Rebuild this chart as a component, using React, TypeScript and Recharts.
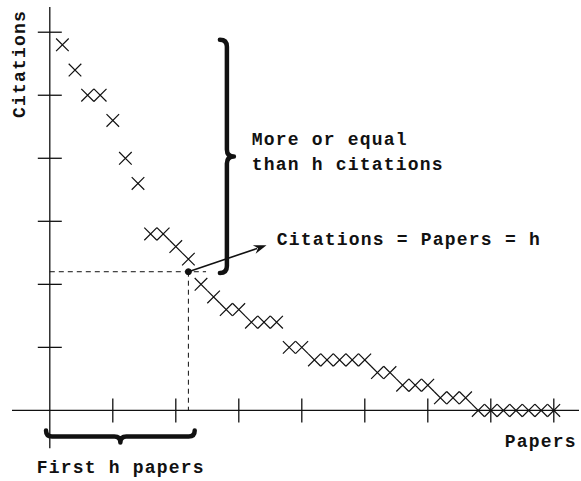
import React from 'react';
import { ScatterChart, Scatter, XAxis, YAxis, ReferenceLine, ReferenceDot } from 'recharts';

// papers ranked by citation count
const papers = [
  1, 2, 3, 4, 5, 6, 7, 8, 9, 10, 11, 12, 13, 14, 15, 16, 17, 18, 19, 20,
  21, 22, 23, 24, 25, 26, 27, 28, 29, 30, 31, 32, 33, 34, 35, 36, 37, 38, 39, 40,
];
const citations = [
  29, 27, 25, 25, 23, 20, 18, 14, 14, 13, 12, 10, 9, 8, 8, 7, 7, 7, 5, 5,
  4, 4, 4, 4, 4, 3, 3, 2, 2, 2, 1, 1, 1, 0, 0, 0, 0, 0, 0, 0,
];
const xTickValues = [5, 10, 15, 20, 25, 30, 35, 40];
const yTickValues = [5, 10, 15, 20, 25, 30];
const hIndex = 11;

const points = papers.map((p, i) => ({ x: p, y: citations[i] }));
const xTicks = xTickValues.map((v) => ({ x: v, y: 0 }));
const yTicks = yTickValues.map((v) => ({ x: 0, y: v }));

const INK = '#111';
const FONT = "'Liberation Mono', 'DejaVu Sans Mono', monospace";

const Cross = (props: any) => {
  const { cx, cy } = props;
  const s = 6.3;
  return (
    <path
      d={`M${cx - s},${cy - s}L${cx + s},${cy + s}M${cx - s},${cy + s}L${cx + s},${cy - s}`}
      stroke={INK}
      strokeWidth={1.2}
      fill="none"
    />
  );
};

const XTick = (props: any) => (
  <line x1={props.cx} x2={props.cx} y1={props.cy - 12} y2={props.cy + 12} stroke={INK} strokeWidth={1.3} />
);
const YTick = (props: any) => (
  <line x1={props.cx - 12} x2={props.cx + 12} y1={props.cy} y2={props.cy} stroke={INK} strokeWidth={1.3} />
);

// curly brace pointing right, between (x1,y1) and (x2,y2)
const VBrace = (props: any) => {
  const { x1, y1, y2 } = props;
  const d = 7;
  const ym = (y1 + y2) / 2;
  const p = `M${x1},${y1} Q${x1 + d},${y1} ${x1 + d},${y1 + d} L${x1 + d},${ym - d} Q${x1 + d},${ym} ${x1 + 2 * d},${ym} Q${x1 + d},${ym} ${x1 + d},${ym + d} L${x1 + d},${y2 - d} Q${x1 + d},${y2} ${x1},${y2}`;
  return <path d={p} stroke={INK} strokeWidth={4.5} fill="none" strokeLinecap="round" strokeLinejoin="round" />;
};

// curly brace pointing down
const HBrace = (props: any) => {
  const { x1, x2, y1 } = props;
  const d = 6;
  const xm = (x1 + x2) / 2;
  const p = `M${x1},${y1} Q${x1},${y1 + d} ${x1 + d},${y1 + d} L${xm - d},${y1 + d} Q${xm},${y1 + d} ${xm},${y1 + 2 * d} Q${xm},${y1 + d} ${xm + d},${y1 + d} L${x2 - d},${y1 + d} Q${x2},${y1 + d} ${x2},${y1}`;
  return <path d={p} stroke={INK} strokeWidth={4.5} fill="none" strokeLinecap="round" strokeLinejoin="round" />;
};

const Arrow = (props: any) => {
  const { x1, y1, x2, y2 } = props;
  const a = Math.atan2(y2 - y1, x2 - x1);
  const len = 13;
  const w = 4.5;
  const bx = x2 - len * Math.cos(a);
  const by = y2 - len * Math.sin(a);
  const px = -Math.sin(a) * w;
  const py = Math.cos(a) * w;
  return (
    <g>
      <line x1={x1} y1={y1} x2={bx + 3 * Math.cos(a)} y2={by + 3 * Math.sin(a)} stroke={INK} strokeWidth={1.6} />
      <path d={`M${x2},${y2}L${bx + px},${by + py}L${bx + 4 * Math.cos(a)},${by + 4 * Math.sin(a)}L${bx - px},${by - py}Z`} fill={INK} />
    </g>
  );
};

const label = (text: string, rotate = false) => (props: any) => (
  <text
    x={props.cx}
    y={props.cy}
    fill={INK}
    fontFamily={FONT}
    fontWeight="bold"
    fontSize={18}
    letterSpacing={1.2}
    transform={rotate ? `rotate(-90 ${props.cx} ${props.cy})` : undefined}
  >
    {text}
  </text>
);

export default function App() {
  return (
    <div style={{ position: 'absolute', left: 0, top: 0, width: 581, height: 481, background: '#fff' }}>
      <ScatterChart width={581} height={481} margin={{ top: 7, right: 2, bottom: 0, left: 12 }}>
        <XAxis type="number" dataKey="x" domain={[-3, 42]} allowDataOverflow hide />
        <YAxis type="number" dataKey="y" domain={[-5.6, 32]} allowDataOverflow hide />

        <ReferenceLine segment={[{ x: -3, y: 0 }, { x: 42, y: 0 }]} stroke={INK} strokeWidth={1.3} ifOverflow="visible" />
        <ReferenceLine segment={[{ x: 0, y: -3 }, { x: 0, y: 32 }]} stroke={INK} strokeWidth={1.3} ifOverflow="visible" />

        <ReferenceLine
          segment={[{ x: 0, y: hIndex }, { x: 12.4, y: hIndex }]}
          stroke={INK}
          strokeWidth={1}
          strokeDasharray="5 4"
          ifOverflow="visible"
        />
        <ReferenceLine
          segment={[{ x: hIndex, y: hIndex }, { x: hIndex, y: 0 }]}
          stroke={INK}
          strokeWidth={1}
          strokeDasharray="5 4"
          ifOverflow="visible"
        />

        <Scatter data={xTicks} shape={XTick} isAnimationActive={false} />
        <Scatter data={yTicks} shape={YTick} isAnimationActive={false} />
        <Scatter data={points} shape={Cross} isAnimationActive={false} />

        <ReferenceLine segment={[{ x: 13.5, y: 29.4 }, { x: 13.5, y: 10.9 }]} shape={VBrace} ifOverflow="visible" />
        <ReferenceLine segment={[{ x: -0.3, y: -1.6 }, { x: 11.5, y: -1.6 }]} shape={HBrace} ifOverflow="visible" />
        <ReferenceLine segment={[{ x: hIndex, y: hIndex }, { x: 17.2, y: 13.1 }]} shape={Arrow} ifOverflow="visible" />
        <ReferenceDot x={hIndex} y={hIndex} r={3} fill={INK} stroke={INK} ifOverflow="visible" />

        <ReferenceDot x={16.03} y={21.03} shape={label('More or equal')} ifOverflow="visible" />
        <ReferenceDot x={16.03} y={19.05} shape={label('than h citations')} ifOverflow="visible" />
        <ReferenceDot x={18.02} y={13.1} shape={label('Citations = Papers = h')} ifOverflow="visible" />
        <ReferenceDot x={36.1} y={-2.94} shape={label('Papers')} ifOverflow="visible" />
        <ReferenceDot x={-1.03} y={-5.0} shape={label('First h papers')} ifOverflow="visible" />
        <ReferenceDot x={-1.94} y={23.2} shape={label('Citations', true)} ifOverflow="visible" />
      </ScatterChart>
    </div>
  );
}
